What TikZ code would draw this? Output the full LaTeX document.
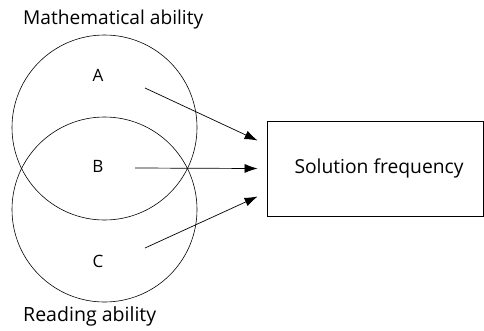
\documentclass[tikz,border=0pt]{standalone}
\usepackage{fontspec}
\setmainfont{Open Sans}
\usetikzlibrary{arrows.meta, positioning}

\newcommand{\fitto}[2]{\resizebox{#1}{!}{#2}}

\tikzset{
  ability/.style={circle, draw, line width=0.6pt, minimum size=185pt, inner sep=0pt},
  effect/.style={-{Latex[length=13pt, width=9pt]}, line width=0.7pt},
  outcome/.style={draw, line width=0.8pt, minimum width=216pt, minimum height=95pt, inner sep=0pt},
  caption/.style={font=\fontsize{17}{19}\selectfont, anchor=west, inner sep=0pt}
}

\begin{document}
\begin{tikzpicture}[x=1pt, y=-1pt]
  \useasboundingbox (0,0) rectangle (484,330);
  % Draw the two overlapping circles
  \node[ability] (math) at (104.5,127.5) {};
  \node[ability] (read) at (104.5,209.5) {};
  % Circle titles
  \node[caption, anchor=base west] (mathtitle) at (23,24) {\fitto{180pt}{Mathematical ability}};
  \node[caption, anchor=base west] (readtitle) at (23,321) {\fitto{133pt}{Reading ability}};
  % Region labels
  \node[caption, anchor=base] (A) at (98,81) {A};
  \node[caption, anchor=base] (B) at (98,172) {B};
  \node[caption, anchor=base] (C) at (98,267) {C};
  % Outcome box
  \node[outcome] (solution) at (375,168.5) {};
  \node[caption, anchor=center] (soltext) at (379,168) {\fitto{169pt}{Solution frequency}};
  % Arrows from the regions
  \coordinate (fromA) at (145,88);
  \coordinate (fromB) at (135,168);
  \coordinate (fromC) at (145,248);
  \coordinate (toA) at ([xshift=-9pt, yshift=28pt]solution.west);
  \coordinate (toB) at ([xshift=-9pt]solution.west);
  \coordinate (toC) at ([xshift=-9pt, yshift=-28pt]solution.west);
  \draw[effect] (fromA) -- (toA);
  \draw[effect] (fromB) -- (toB);
  \draw[effect] (fromC) -- (toC);
\end{tikzpicture}
\end{document}
